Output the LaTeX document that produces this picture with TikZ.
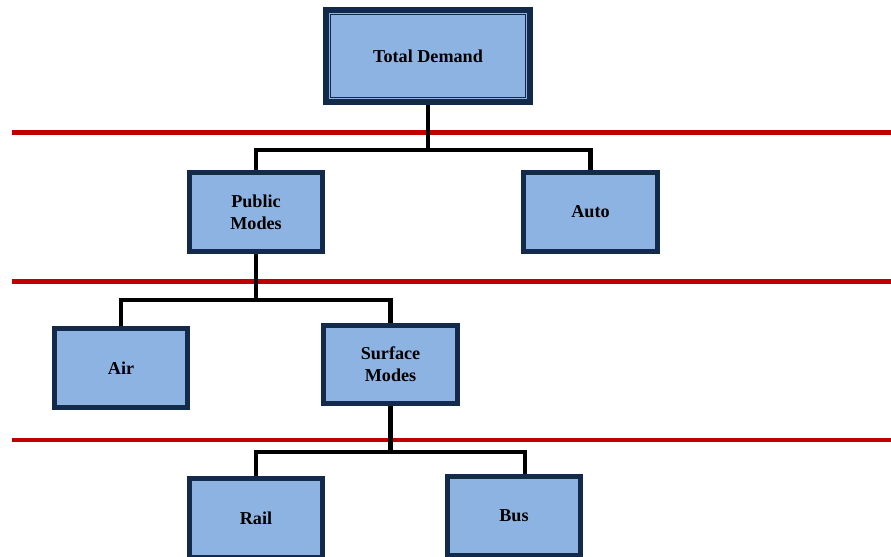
\documentclass[tikz,border=0pt]{standalone}
\usepackage{fontspec}
\setmainfont{Liberation Serif}
\usetikzlibrary{positioning}
\definecolor{boxblue}{HTML}{8DB3E2}
\definecolor{boxedge}{HTML}{142A4A}
\definecolor{divred}{HTML}{C00000}
\tikzset{
  box/.style={rectangle, draw=boxedge, fill=boxblue, line width=4pt, minimum width=40mm, minimum height=23.5mm, align=center, font=\bfseries\fontsize{15.5}{19}\selectfont},
  topbox/.style={box, line width=4.6pt, minimum width=61.3mm, minimum height=27.7mm},
  innerbox/.style={rectangle, draw=boxedge, line width=1.1pt, minimum width=58.5mm, minimum height=24.7mm},
  link/.style={line width=4pt, black},
  divider/.style={line width=4.2pt, divred}
}

\begin{document}
\begin{tikzpicture}[x=0.3mm, y=-0.3mm]
  \useasboundingbox (0,0) rectangle (891,556);

  % level dividers
  \draw[divider] (12,132.5) -- (891,132.5);
  \draw[divider] (12,281.5) -- (891,281.5);
  \draw[divider] (12,440) -- (891,440);

  \draw node[topbox] (td) at (428,56) {Total Demand};
  \draw node[innerbox] (tdin) at (td.center) {};

  \begin{scope}[every node/.style={box}]
  \draw node (pm) at (256,212) {Public\\Modes};
  \draw node (auto) at (590.5,212) {Auto};
  \draw node (air) at (121,368) {Air};
  \draw node (sm) at (390.5,364.5) {Surface\\Modes};
  \draw node (rail) at (256,518) {Rail};
  \draw node (bus) at (514,516) {Bus};
  \end{scope}

  \coordinate (j1) at (428,150);
  \coordinate (j2) at (256,300);
  \coordinate (j3) at (390.5,452);

  \draw[link] (td.south) -- (j1);
  \draw[link] (pm.north) |- (j1) -| (auto.north);
  \draw[link] (pm.south) -- (j2);
  \draw[link] (air.north) |- (j2) -| (sm.north);
  \draw[link] (sm.south) -- (j3);
  \draw[link] (rail.north) |- (j3) -| ([xshift=3.3mm]bus.north);
\end{tikzpicture}
\end{document}
